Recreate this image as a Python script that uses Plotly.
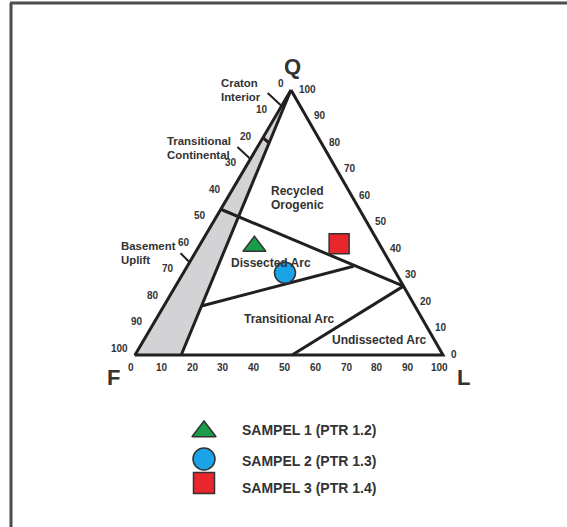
import plotly.graph_objects as go

# ---------------- data (QFL percentages) ----------------
OUTER_Q = [100, 0, 0, 100]
OUTER_F = [0, 100, 0, 0]
OUTER_L = [0, 0, 100, 0]

BAND_Q = [100, 0, 0, 100]          # continental block field (gray)
BAND_F = [0, 100, 85, 0]
BAND_L = [0, 0, 15, 0]

BAND_EDGE_Q = [100, 0]
BAND_EDGE_F = [0, 85]
BAND_EDGE_L = [0, 15]

CRATON_TICK_Q = [82, 80]
CRATON_TICK_F = [18, 17]
CRATON_TICK_L = [0, 3]

RECYCLED_Q = [55, 26]
RECYCLED_F = [45, 0]
RECYCLED_L = [0, 74]

DISSECTED_Q = [18.5, 33.5]
DISSECTED_F = [69.3, 12.5]
DISSECTED_L = [12.2, 54]

UNDISSECTED_Q = [26, 0]
UNDISSECTED_F = [0, 49]
UNDISSECTED_L = [74, 51]

SAMPLE_NAMES = ["SAMPEL 1 (PTR 1.2)", "SAMPEL 2 (PTR 1.3)", "SAMPEL 3 (PTR 1.4)"]
SAMPLE_Q = [41, 31, 42]
SAMPLE_F = [41, 36, 13]
SAMPLE_L = [18, 33, 45]

TICKS = [0, 10, 20, 30, 40, 50, 60, 70, 80, 90, 100]
VERTEX_LABELS = ["Q", "F", "L"]
FIELD_LABELS = [["Recycled", "Orogenic"], ["Dissected Arc"], ["Transitional Arc"], ["Undissected Arc"]]
SIDE_LABELS = [["Craton", "Interior"], ["Transitional", "Continental"], ["Basement", "Uplift"]]
SIDE_POINTS_F = [6, 26, 65]   # where the leader lines touch the Q-F edge

# ---------------- layout constants ----------------
W, H = 567, 527
VQ = (291.0, 90.0)
VF = (135.0, 355.0)
VL = (443.0, 355.0)
LINE = "#231f20"
TXT = "#333333"
FONT = "Liberation Sans, Arial, sans-serif"


def to_xy(q, f, l):
    s = q + f + l
    x = (q * VQ[0] + f * VF[0] + l * VL[0]) / s
    y = (q * VQ[1] + f * VF[1] + l * VL[1]) / s
    return x, y


def series(qs, fs, ls):
    pts = [to_xy(q, f, l) for q, f, l in zip(qs, fs, ls)]
    return [p[0] for p in pts], [p[1] for p in pts]


fig = go.Figure()

# gray continental block field
bx, by = series(BAND_Q, BAND_F, BAND_L)
fig.add_trace(go.Scatter(x=bx, y=by, mode="lines", fill="toself",
                         fillcolor="#d3d3d5", line=dict(width=0), hoverinfo="skip"))

for qs, fs, ls in [(BAND_EDGE_Q, BAND_EDGE_F, BAND_EDGE_L),
                   (CRATON_TICK_Q, CRATON_TICK_F, CRATON_TICK_L),
                   (RECYCLED_Q, RECYCLED_F, RECYCLED_L),
                   (DISSECTED_Q, DISSECTED_F, DISSECTED_L),
                   (UNDISSECTED_Q, UNDISSECTED_F, UNDISSECTED_L),
                   (OUTER_Q, OUTER_F, OUTER_L)]:
    x, y = series(qs, fs, ls)
    fig.add_trace(go.Scatter(x=x, y=y, mode="lines",
                             line=dict(color=LINE, width=3), hoverinfo="skip"))

# leader lines for the side labels
leader_off = [(-14, -13), (-13, -12), (-9, -9)]
for fval, (dx, dy) in zip(SIDE_POINTS_F, leader_off):
    ex, ey = to_xy(100 - fval, fval, 0)
    fig.add_trace(go.Scatter(x=[ex + dx, ex], y=[ey + dy, ey], mode="lines",
                             line=dict(color=LINE, width=2), hoverinfo="skip"))

# samples
symbols = ["triangle-up", "circle", "square"]
colors = ["#1b9c4b", "#1aa3e6", "#e8262c"]
sizes = [20, 21, 20]
sx, sy = series(SAMPLE_Q, SAMPLE_F, SAMPLE_L)
for i in range(3):
    fig.add_trace(go.Scatter(x=[sx[i]], y=[sy[i]], mode="markers", name=SAMPLE_NAMES[i],
                             marker=dict(symbol=symbols[i], size=sizes[i], color=colors[i],
                                         line=dict(color="#333333", width=1.5))))

# legend (manual)
leg_marker_y = [431.5, 459, 483]
leg_text_y = [429.5, 461, 488]
for i in range(3):
    fig.add_trace(go.Scatter(x=[204], y=[leg_marker_y[i]], mode="markers",
                             marker=dict(symbol=symbols[i], size=sizes[i] + 1, color=colors[i],
                                         line=dict(color="#333333", width=1.5)),
                             hoverinfo="skip"))
    fig.add_annotation(x=240, y=leg_text_y[i], text="<b>%s</b>" % SAMPLE_NAMES[i],
                       showarrow=False, xanchor="left", yanchor="middle",
                       font=dict(family=FONT, size=14, color=TXT))


def label(x, y, text, size, xanchor="center"):
    fig.add_annotation(x=x, y=y, text="<b>%s</b>" % text, showarrow=False,
                       xanchor=xanchor, yanchor="middle",
                       font=dict(family=FONT, size=size, color=TXT))


# tick labels
for t in TICKS:
    x, y = to_xy(100 - t, t, 0)          # F scale on left edge
    label(x - 5.5, y - 7, str(t), 10, "right")
    x, y = to_xy(0, 100 - t, t)          # L scale on bottom edge
    label(x - 4, y + 12, str(t), 10)
    x, y = to_xy(t, 0, 100 - t)          # Q scale on right edge
    label(x + 5.5, y - 1, str(t), 10, "left")

# vertex labels
label(292.5, 66, VERTEX_LABELS[0], 22)
label(113, 377, VERTEX_LABELS[1], 22)
label(463, 377, VERTEX_LABELS[2], 22)

# field labels
field_pos = [(297, 191), (270.5, 263), (289, 319), (379, 340)]
for lines, (x, y) in zip(FIELD_LABELS, field_pos):
    for k, s in enumerate(lines):
        label(x, y + 14 * k, s, 12)

side_pos = [(219, 83), (165, 141), (119, 246)]
for lines, (x, y) in zip(SIDE_LABELS, side_pos):
    for k, s in enumerate(lines):
        label(x, y + 13.5 * k, s, 11.4, "left")

# frame
fig.add_shape(type="line", x0=10, y0=3, x1=W, y1=3, line=dict(color="#4d4d4d", width=3))
fig.add_shape(type="line", x0=11, y0=3, x1=11, y1=H, line=dict(color="#4d4d4d", width=3))

fig.update_layout(
    width=W, height=H, margin=dict(l=0, r=0, t=0, b=0, pad=0),
    paper_bgcolor="white", plot_bgcolor="white", showlegend=False,
    xaxis=dict(range=[0, W], visible=False, fixedrange=True),
    yaxis=dict(range=[H, 0], visible=False, fixedrange=True),
)

fig.write_html("out.html", config={"displayModeBar": False},
               post_script="document.body.style.margin='0';document.body.style.overflow='hidden';")
